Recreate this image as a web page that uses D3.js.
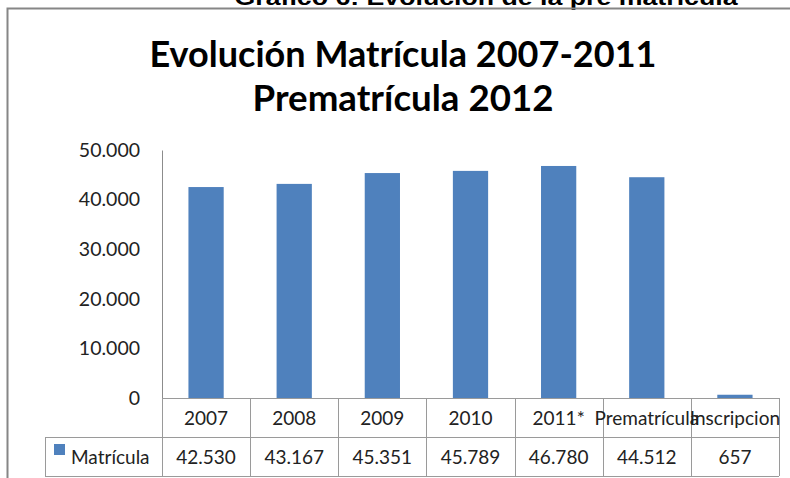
<!DOCTYPE html>
<html>
<head>
<meta charset="utf-8">
<script src="https://cdn.jsdelivr.net/npm/d3@7"></script>
<style>
  body { margin: 0; background: #fff; }
  svg { display: block; }
  text { font-family: Lato, "Open Sans", sans-serif; fill: #222; }
</style>
</head>
<body>
<script>
// data
const categories = ['2007', '2008', '2009', '2010', '2011*', 'Prematrícula', 'Inscripcion'];
const matricula = [42530, 43167, 45351, 45789, 46780, 44512, 657];
const seriesName = 'Matrícula';
const yTicks = [0, 10000, 20000, 30000, 40000, 50000];
const pageCaption = 'Gráfico 6: Evolución de la pre matrícula';
const titleLines = ['Evolución Matrícula 2007-2011', 'Prematrícula 2012'];

const W = 790, H = 478;
const plot = { l: 162, r: 779, t: 150, b: 398 };
const rowH = 39;

const svg = d3.select('body').append('svg')
  .attr('width', W)
  .attr('height', H);

// caption of the page, cut by the top edge
svg.append('text')
  .attr('x', 486)
  .attr('y', 5)
  .attr('text-anchor', 'middle')
  .attr('textLength', 503)
  .attr('lengthAdjust', 'spacingAndGlyphs')
  .style('font-family', '"Liberation Sans", Arial, sans-serif')
  .style('font-weight', 'bold')
  .style('font-size', '22px')
  .style('fill', '#000')
  .text(pageCaption);

// chart frame
svg.append('path')
  .attr('d', `M7.5,${H} V8.5 H${W}`)
  .attr('fill', 'none')
  .attr('stroke', '#868686')
  .attr('stroke-width', 2);

// title
svg.selectAll('.title')
  .data(titleLines)
  .enter().append('text')
  .attr('class', 'title')
  .attr('x', 403)
  .attr('y', (d, i) => 67 + i * 44)
  .attr('text-anchor', 'middle')
  .attr('textLength', (d, i) => i === 0 ? 507 : 301)
  .attr('lengthAdjust', 'spacingAndGlyphs')
  .style('font-weight', 'bold')
  .style('font-size', '36px')
  .style('fill', '#000')
  .text(d => d);

// scales
const xScale = d3.scaleBand()
  .domain(categories)
  .range([plot.l, plot.r])
  .paddingInner(0.6)
  .paddingOuter(0.3);

const colScale = d3.scaleBand()
  .domain(categories)
  .range([plot.l, plot.r]);

const yScale = d3.scaleLinear()
  .domain([0, 50000])
  .range([plot.b, plot.t]);

const locale = d3.formatLocale({ decimal: ',', thousands: '.', grouping: [3], currency: ['', ''] });
const fmt = locale.format(',d');

// y axis
const yAxis = d3.axisLeft(yScale)
  .tickValues(yTicks)
  .tickFormat(fmt)
  .tickSize(0)
  .tickPadding(22);

const yG = svg.append('g')
  .attr('transform', `translate(${plot.l},0)`)
  .call(yAxis);
yG.select('.domain').attr('stroke', '#8c8c8c');
yG.selectAll('text')
  .style('font-size', '19.5px')
  .style('font-family', 'Lato, sans-serif')
  .style('fill', '#222');

// bars
svg.selectAll('.bar')
  .data(matricula)
  .enter().append('rect')
  .attr('class', 'bar')
  .attr('x', (d, i) => xScale(categories[i]))
  .attr('width', xScale.bandwidth())
  .attr('y', d => yScale(d))
  .attr('height', d => yScale(0) - yScale(d))
  .attr('fill', '#4f81bd');

// data table
const grid = svg.append('g')
  .attr('stroke', '#9a9a9a')
  .attr('stroke-width', 1)
  .attr('fill', 'none');

const tTop = plot.b, tMid = plot.b + rowH, tBot = plot.b + 2 * rowH;
const tLeft = 45;

grid.append('line').attr('x1', plot.l).attr('x2', plot.r).attr('y1', tTop + 0.5).attr('y2', tTop + 0.5);
grid.append('line').attr('x1', tLeft).attr('x2', plot.r).attr('y1', tMid + 0.5).attr('y2', tMid + 0.5);
grid.append('line').attr('x1', tLeft).attr('x2', plot.r).attr('y1', tBot + 0.5).attr('y2', tBot + 0.5);
grid.append('line').attr('x1', tLeft + 0.5).attr('x2', tLeft + 0.5).attr('y1', tMid).attr('y2', tBot);

const bounds = categories.map(c => colScale(c)).concat([plot.r]);
grid.selectAll('.vline')
  .data(bounds)
  .enter().append('line')
  .attr('class', 'vline')
  .attr('x1', d => Math.round(d) + 0.5)
  .attr('x2', d => Math.round(d) + 0.5)
  .attr('y1', tTop)
  .attr('y2', tBot);

// category labels
svg.selectAll('.cat')
  .data(categories)
  .enter().append('text')
  .attr('class', 'cat')
  .attr('x', d => colScale(d) + colScale.bandwidth() / 2)
  .attr('y', tTop + rowH / 2 + 7)
  .attr('text-anchor', 'middle')
  .style('font-size', '19px')
  .text(d => d);

// value labels
svg.selectAll('.val')
  .data(matricula)
  .enter().append('text')
  .attr('class', 'val')
  .attr('x', (d, i) => colScale(categories[i]) + colScale.bandwidth() / 2)
  .attr('y', tMid + rowH / 2 + 7)
  .attr('text-anchor', 'middle')
  .style('font-size', '19px')
  .text(d => fmt(d));

// legend key in table
svg.append('rect')
  .attr('x', 54)
  .attr('y', tMid + 7)
  .attr('width', 11)
  .attr('height', 11)
  .attr('fill', '#4f81bd');

svg.append('text')
  .attr('x', 71)
  .attr('y', tMid + rowH / 2 + 7)
  .style('font-size', '19px')
  .text(seriesName);
</script>
</body>
</html>
